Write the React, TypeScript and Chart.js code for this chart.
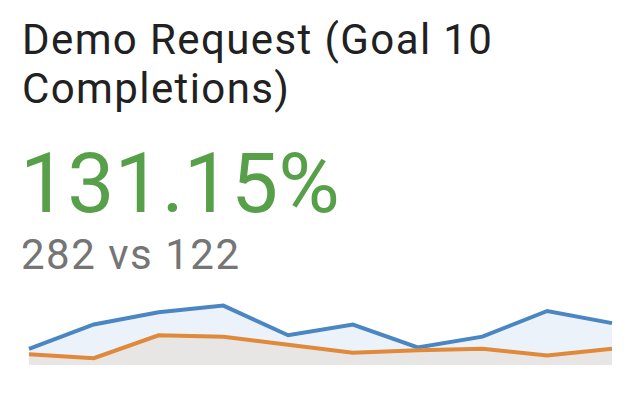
import React, { useEffect, useRef } from "react";
import { Chart, registerables } from "chart.js";

Chart.register(...registerables);

const titleLines = ["Demo Request (Goal 10", "Completions)"];
const changeText = "131.15%";
const compareText = "282 vs 122";
const labels = ["1", "2", "3", "4", "5", "6", "7", "8", "9", "10"];
const currentSeries = [12, 30, 39, 44, 22, 30, 13, 21, 40, 31];
const previousSeries = [8, 5, 22, 21, 15, 9, 11, 12, 7, 12];

export default function App() {
  const ref = useRef<HTMLCanvasElement | null>(null);

  useEffect(() => {
    if (!ref.current) return;
    const chart = new Chart(ref.current, {
      type: "line",
      data: {
        labels,
        datasets: [
          {
            data: currentSeries,
            borderColor: "#4a86c2",
            backgroundColor: "#ebf2f9",
            borderWidth: 4,
            fill: "origin",
            pointRadius: 0,
            tension: 0,
            order: 1,
          },
          {
            data: previousSeries,
            borderColor: "#e0893a",
            backgroundColor: "#e8e6e4",
            borderWidth: 4,
            fill: "origin",
            pointRadius: 0,
            tension: 0,
            order: 0,
          },
        ],
      },
      options: {
        animation: false,
        responsive: false,
        maintainAspectRatio: false,
        layout: { padding: { left: 29, right: 22, top: 17.5, bottom: 15 } },
        plugins: { legend: { display: false }, tooltip: { enabled: false } },
        scales: {
          x: { display: false },
          y: { display: false, min: 0, max: 50 },
        },
      },
    });
    return () => chart.destroy();
  }, []);

  const font = "Roboto, 'Noto Sans', sans-serif";
  return (
    <div
      style={{
        position: "fixed",
        left: 0,
        top: 0,
        width: 634,
        height: 400,
        background: "#fff",
        fontFamily: font,
      }}
    >
      <div style={{ position: "absolute", left: 22, top: 15, fontSize: 42, lineHeight: "49px", letterSpacing: 1.4, color: "#212121", whiteSpace: "nowrap" }}>
        {titleLines.map((l, i) => (
          <div key={i}>{l}</div>
        ))}
      </div>
      <div style={{ position: "absolute", left: 20, top: 142, fontSize: 84, lineHeight: 1, color: "#589f4a", whiteSpace: "nowrap" }}>
        {changeText}
      </div>
      <div style={{ position: "absolute", left: 21, top: 234, fontSize: 42, lineHeight: 1, letterSpacing: 1.5, color: "#757575", whiteSpace: "nowrap" }}>
        {compareText}
      </div>
      <canvas ref={ref} width={634} height={100} style={{ position: "absolute", left: 0, top: 280, width: 634, height: 100 }} />
    </div>
  );
}
